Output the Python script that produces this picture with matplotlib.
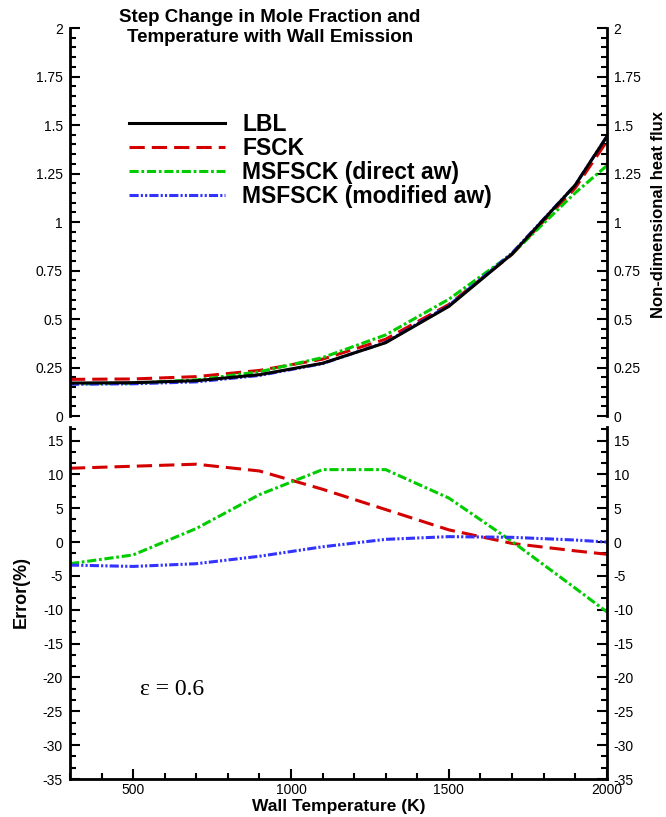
import matplotlib
matplotlib.use('Agg')
import matplotlib.pyplot as plt
from matplotlib import font_manager
from matplotlib.ticker import MultipleLocator
import numpy as np

plt.rcParams['font.family'] = ['Liberation Sans', 'DejaVu Sans']
plt.rcParams['axes.unicode_minus'] = False

# narrow face for ticks and title if the system has it
try:
    font_manager.findfont('Liberation Sans Narrow', fallback_to_default=False)
    narrow = 'Liberation Sans Narrow'
    tick_size, title_size, rlab_size = 12, 16.5, 14.5
except Exception:
    narrow = 'Liberation Sans'
    tick_size, title_size, rlab_size = 10, 13.5, 12

# wall temperature (K)
T = [300, 500, 700, 900, 1100, 1300, 1500, 1700, 1900, 2000]

# non-dimensional heat flux
q_lbl = [0.170, 0.172, 0.182, 0.213, 0.272, 0.378, 0.565, 0.835, 1.190, 1.440]
q_fsck = [0.189, 0.191, 0.203, 0.235, 0.293, 0.396, 0.575, 0.833, 1.175, 1.415]
q_direct = [0.165, 0.169, 0.186, 0.228, 0.301, 0.418, 0.602, 0.836, 1.150, 1.290]
q_modified = [0.164, 0.166, 0.176, 0.209, 0.270, 0.380, 0.570, 0.840, 1.190, 1.440]

# error (%)
e_fsck = [10.9, 11.2, 11.5, 10.5, 7.8, 4.8, 1.8, -0.2, -1.3, -1.8]
e_direct = [-3.2, -1.9, 2.0, 7.0, 10.7, 10.7, 6.5, 0.1, -6.8, -10.3]
e_modified = [-3.4, -3.6, -3.2, -2.1, -0.7, 0.4, 0.8, 0.7, 0.3, 0.0]

labels = ['LBL', 'FSCK', 'MSFSCK (direct aw)', 'MSFSCK (modified aw)']
red = '#d40000'
green = '#00cc00'
blue = '#3333ff'
lw = 2.2
d_red = (5, 2.3)
d_green = (3, 0.9, 0.9, 0.9)
d_blue = (3, 0.7, 0.7, 0.7, 0.7, 0.7)

fig = plt.figure(figsize=(6.66, 8.17), dpi=100)
ax1 = fig.add_axes([0.105, 0.4908, 0.806, 0.4749])
ax2 = fig.add_axes([0.105, 0.0465, 0.806, 0.4309])

l1, = ax1.plot(T, q_lbl, color='black', lw=lw, zorder=5)
l2, = ax1.plot(T, q_fsck, color=red, lw=lw, dashes=d_red)
l3, = ax1.plot(T, q_direct, color=green, lw=lw, dashes=d_green)
l4, = ax1.plot(T, q_modified, color=blue, lw=lw, dashes=d_blue)

ax2.plot(T, e_fsck, color=red, lw=lw, dashes=d_red)
ax2.plot(T, e_direct, color=green, lw=lw, dashes=d_green)
ax2.plot(T, e_modified, color=blue, lw=lw, dashes=d_blue)

ax1.set_xlim(300, 2000)
ax1.set_ylim(0, 2)
ax2.set_xlim(300, 2000)
ax2.set_ylim(-35, 17)

for ax in (ax1, ax2):
    ax.spines['top'].set_visible(False)
    for s in ('left', 'right', 'bottom'):
        ax.spines[s].set_linewidth(2)
    ax.tick_params(which='both', direction='in', left=True, right=True,
                   labelleft=True, labelright=True, labelsize=tick_size, width=1.5,
                   pad=5, labelfontfamily=narrow)
    ax.tick_params(which='major', length=7)
    ax.tick_params(which='minor', length=4)
    ax.xaxis.set_major_locator(MultipleLocator(500))
    ax.xaxis.set_minor_locator(MultipleLocator(100))
ax2.tick_params(axis='x', pad=3)

ax1.spines['bottom'].set_visible(False)
ax1.tick_params(axis='x', which='both', bottom=False, labelbottom=False)
ax1.yaxis.set_minor_locator(MultipleLocator(0.05))
ax1.set_yticks(np.arange(0, 2.01, 0.25))
ax1.set_yticklabels(['0', '0.25', '0.5', '0.75', '1', '1.25', '1.5', '1.75', '2'])

ax2.yaxis.set_major_locator(MultipleLocator(5))
ax2.yaxis.set_minor_locator(MultipleLocator(5 / 3))

ax1.legend([l1, l2, l3, l4], labels, loc='upper left',
           bbox_to_anchor=(129 / 666, 1 - 113 / 817), bbox_transform=fig.transFigure,
           frameon=False, borderpad=0, borderaxespad=0,
           handlelength=4.2, handletextpad=0.75, labelspacing=0.05,
           prop={'weight': 'bold', 'size': 16.5})

ax1.yaxis.set_label_position('right')
ax1.set_ylabel('Non-dimensional heat flux', fontsize=rlab_size, fontweight='bold',
               family=narrow)
ax1.yaxis.set_label_coords(1.082, 0.52)
ax2.set_ylabel('Error(%)', fontsize=13, fontweight='bold')
ax2.yaxis.set_label_coords(-0.075, 0.53)
ax2.set_xlabel('Wall Temperature (K)', fontsize=12.5, fontweight='bold', labelpad=1)

ax2.text(0.13, 0.238, 'ε = 0.6', transform=ax2.transAxes, fontsize=17,
         family='Liberation Serif', va='baseline')

fig.text(270 / 666, 1 - 9 / 817, 'Step Change in Mole Fraction and\nTemperature with Wall Emission',
         ha='center', va='top', fontsize=title_size, fontweight='bold',
         family=narrow, linespacing=1.2)

fig.savefig('out.png', dpi=100)
